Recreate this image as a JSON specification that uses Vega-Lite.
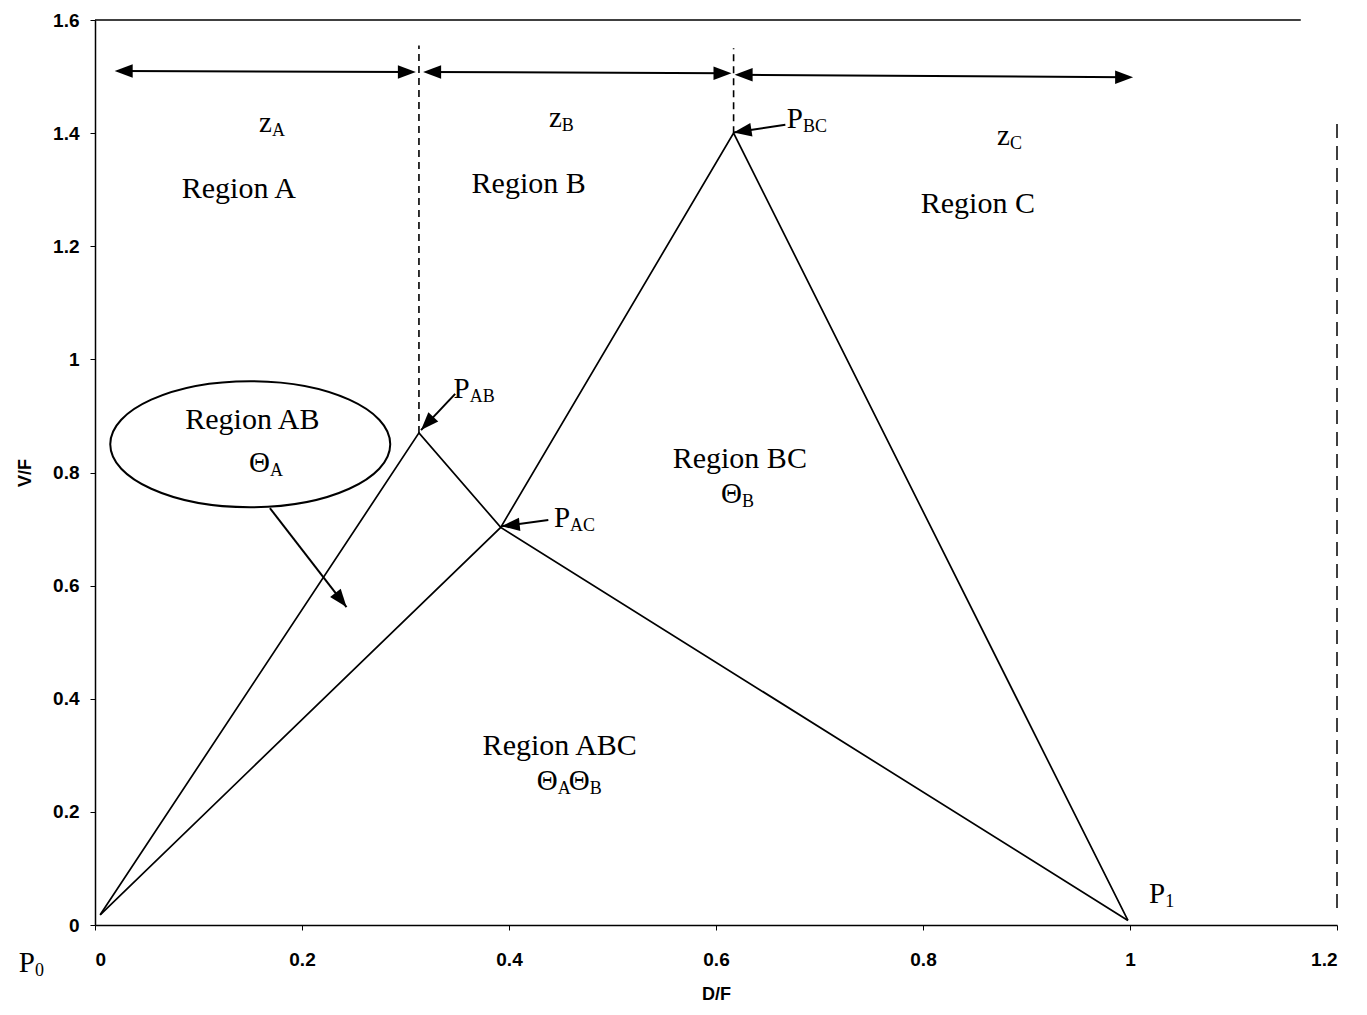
{
  "$schema": "https://vega.github.io/schema/vega-lite/v6.json",
  "width": 1242,
  "height": 905,
  "autosize": {"type": "none"},
  "padding": {"left": 95, "top": 20, "right": 30, "bottom": 90},
  "background": "white",
  "config": {
    "view": {"stroke": null},
    "axis": {
      "grid": false,
      "domainColor": "black",
      "domainWidth": 1.5,
      "tickColor": "black",
      "tickSize": 5,
      "labelColor": "black",
      "labelFont": "Liberation Sans",
      "labelFontSize": 19,
      "labelFontWeight": "bold",
      "titleFont": "Liberation Sans",
      "titleFontSize": 18,
      "titleFontWeight": "bold",
      "titleColor": "black"
    }
  },
  "datasets": {
    "lines": [
      {"series": "L1", "ord": 1, "x": 0.005, "y": 0.018},
      {"series": "L1", "ord": 2, "x": 0.313, "y": 0.87},
      {"series": "L1", "ord": 3, "x": 0.392, "y": 0.703},
      {"series": "L1", "ord": 4, "x": 0.998, "y": 0.008},
      {"series": "L2", "ord": 1, "x": 0.005, "y": 0.018},
      {"series": "L2", "ord": 2, "x": 0.392, "y": 0.703},
      {"series": "L2", "ord": 3, "x": 0.617, "y": 1.4},
      {"series": "L2", "ord": 4, "x": 0.998, "y": 0.008}
    ],
    "dashed": [
      {"x": 0.313, "y": 0.87, "y2": 1.555},
      {"x": 0.617, "y": 1.4, "y2": 1.55}
    ],
    "frameTop": [{"x": 0, "x2": 1.165, "y": 1.6}],
    "frameRight": [{"x": 1.2, "y": 0.03, "y2": 1.42}],
    "shafts": [
      {"x": 0.025, "y": 1.51, "x2": 0.305, "y2": 1.508},
      {"x": 0.322, "y": 1.508, "x2": 0.61, "y2": 1.506},
      {"x": 0.623, "y": 1.503, "x2": 0.998, "y2": 1.499},
      {"x": 0.169, "y": 0.737, "x2": 0.243, "y2": 0.562},
      {"x": 0.348, "y": 0.939, "x2": 0.315, "y2": 0.875},
      {"x": 0.438, "y": 0.716, "x2": 0.393, "y2": 0.705},
      {"x": 0.667, "y": 1.415, "x2": 0.617, "y2": 1.401}
    ],
    "heads": [
      {"x": 0.019, "y": 1.51, "dir": 180},
      {"x": 0.31, "y": 1.508, "dir": 0},
      {"x": 0.317, "y": 1.508, "dir": 180},
      {"x": 0.615, "y": 1.506, "dir": 0},
      {"x": 0.618, "y": 1.503, "dir": 180},
      {"x": 1.003, "y": 1.499, "dir": 0},
      {"x": 0.243, "y": 0.562, "dir": 52},
      {"x": 0.315, "y": 0.875, "dir": 133},
      {"x": 0.393, "y": 0.705, "dir": 174},
      {"x": 0.617, "y": 1.401, "dir": 171}
    ],
    "ellipse": [{"x": 0.15, "y": 0.85}],
    "regions": [
      {"text": "Region A", "x": 0.139, "y": 1.285},
      {"text": "Region B", "x": 0.419, "y": 1.294},
      {"text": "Region C", "x": 0.853, "y": 1.259},
      {"text": "Region AB", "x": 0.152, "y": 0.877},
      {"text": "Region BC", "x": 0.623, "y": 0.808},
      {"text": "Region ABC", "x": 0.449, "y": 0.301}
    ],
    "symbols": [
      {"main": "z", "sub": "A", "x": 0.171, "y": 1.402},
      {"main": "z", "sub": "B", "x": 0.451, "y": 1.411},
      {"main": "z", "sub": "C", "x": 0.884, "y": 1.379},
      {"main": "P", "sub": "BC", "x": 0.684, "y": 1.409},
      {"main": "P", "sub": "AB", "x": 0.362, "y": 0.932},
      {"main": "P", "sub": "AC", "x": 0.459, "y": 0.704},
      {"main": "Θ", "sub": "A", "x": 0.169, "y": 0.801},
      {"main": "Θ", "sub": "B", "x": 0.625, "y": 0.746},
      {"main": "Θ", "sub": "A", "x": 0.447, "y": 0.239},
      {"main": "Θ", "sub": "B", "x": 0.478, "y": 0.239},
      {"main": "P", "sub": "1", "x": 1.034, "y": 0.039},
      {"main": "P", "sub": "0", "x": -0.058, "y": -0.083}
    ]
  },
  "encoding": {
    "x": {
      "field": "x",
      "type": "quantitative",
      "scale": {"domain": [0, 1.2], "nice": false, "zero": false},
      "axis": {
        "title": "D/F",
        "values": [0, 0.2, 0.4, 0.6, 0.8, 1, 1.2],
        "format": "~g",
        "labelPadding": 20,
        "titlePadding": 16
      }
    },
    "y": {
      "field": "y",
      "type": "quantitative",
      "scale": {"domain": [0, 1.6], "nice": false, "zero": false},
      "axis": {
        "title": "V/F",
        "values": [0, 0.2, 0.4, 0.6, 0.8, 1, 1.2, 1.4, 1.6],
        "format": "~g",
        "labelPadding": 11,
        "titlePadding": 18
      }
    }
  },
  "layer": [
    {
      "data": {"name": "frameTop"},
      "mark": {"type": "rule", "color": "black", "strokeWidth": 1.5},
      "encoding": {"x2": {"field": "x2"}}
    },
    {
      "data": {"name": "frameRight"},
      "mark": {"type": "rule", "color": "black", "strokeWidth": 1.5, "strokeDash": [14, 8]},
      "encoding": {"y2": {"field": "y2"}}
    },
    {
      "data": {"name": "lines"},
      "mark": {"type": "line", "color": "black", "strokeWidth": 1.7},
      "encoding": {
        "detail": {"field": "series"},
        "order": {"field": "ord", "type": "quantitative"}
      }
    },
    {
      "data": {"name": "dashed"},
      "mark": {"type": "rule", "color": "black", "strokeWidth": 1.6, "strokeDash": [7, 5]},
      "encoding": {"y2": {"field": "y2"}}
    },
    {
      "data": {"name": "shafts"},
      "mark": {"type": "rule", "color": "black", "strokeWidth": 2},
      "encoding": {"x2": {"field": "x2"}, "y2": {"field": "y2"}}
    },
    {
      "data": {"name": "heads"},
      "mark": {
        "type": "point",
        "shape": "M 0 0 L -2 -0.75 L -2 0.75 Z",
        "filled": true,
        "color": "black",
        "opacity": 1,
        "size": 324
      },
      "encoding": {"angle": {"field": "dir", "type": "quantitative", "scale": null}}
    },
    {
      "data": {"name": "ellipse"},
      "mark": {
        "type": "point",
        "shape": "M -1 0 A 1 0.45 0 1 1 1 0 A 1 0.45 0 1 1 -1 0 Z",
        "filled": false,
        "color": "black",
        "opacity": 1,
        "strokeWidth": 2,
        "size": 78400
      }
    },
    {
      "data": {"name": "regions"},
      "mark": {
        "type": "text",
        "font": "Liberation Serif",
        "fontSize": 30,
        "align": "center",
        "baseline": "alphabetic",
        "color": "black"
      },
      "encoding": {"text": {"field": "text"}}
    },
    {
      "data": {"name": "symbols"},
      "mark": {
        "type": "text",
        "font": "Liberation Serif",
        "fontSize": 29,
        "align": "right",
        "baseline": "alphabetic",
        "color": "black"
      },
      "encoding": {"text": {"field": "main"}}
    },
    {
      "data": {"name": "symbols"},
      "mark": {
        "type": "text",
        "font": "Liberation Serif",
        "fontSize": 18,
        "align": "left",
        "baseline": "alphabetic",
        "dy": 4,
        "color": "black"
      },
      "encoding": {"text": {"field": "sub"}}
    }
  ]
}
